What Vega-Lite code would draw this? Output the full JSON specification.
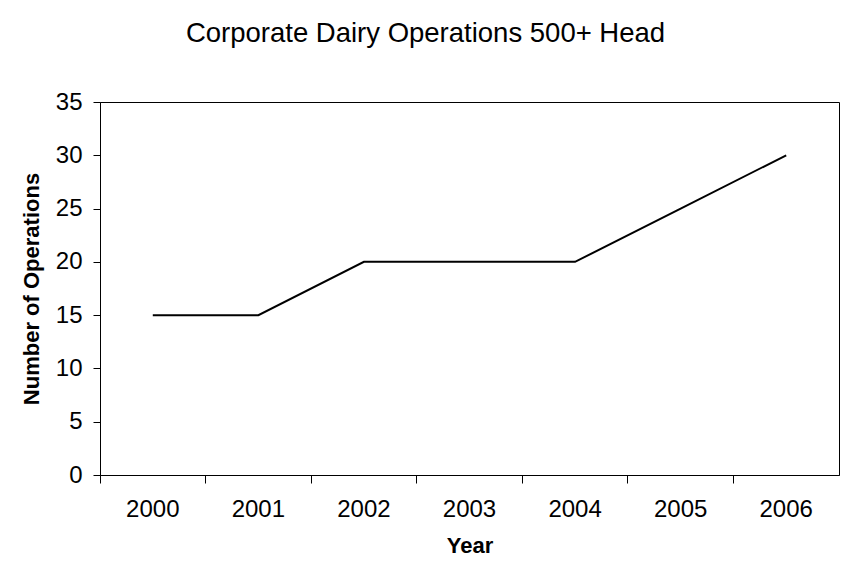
{
  "$schema": "https://vega.github.io/schema/vega-lite/v6.json",
  "autosize": {"type": "none"},
  "width": 739,
  "height": 373,
  "padding": {"left": 100, "top": 102, "right": 16, "bottom": 102},
  "background": "white",
  "config": {
    "view": {"stroke": "#000", "strokeWidth": 1},
    "font": "Liberation Sans"
  },
  "title": {
    "text": "Corporate Dairy Operations 500+ Head",
    "font": "Liberation Sans",
    "fontSize": 27.5,
    "fontWeight": "normal",
    "color": "#000",
    "anchor": "middle",
    "baseline": "alphabetic",
    "offset": 21,
    "dx": -44
  },
  "data": {
    "values": [
      {"Year": "2000", "Operations": 15},
      {"Year": "2001", "Operations": 15},
      {"Year": "2002", "Operations": 20},
      {"Year": "2003", "Operations": 20},
      {"Year": "2004", "Operations": 20},
      {"Year": "2005", "Operations": 25},
      {"Year": "2006", "Operations": 30}
    ]
  },
  "mark": {"type": "line", "color": "#000", "strokeWidth": 2},
  "encoding": {
    "x": {
      "field": "Year",
      "type": "ordinal",
      "bandPosition": 0.5,
      "scale": {"type": "band", "paddingInner": 0, "paddingOuter": 0},
      "axis": {
        "title": "Year",
        "titleFont": "Liberation Sans",
        "titleFontSize": 22,
        "titleFontWeight": "bold",
        "titleColor": "#000",
        "titlePadding": 14,
        "labelFont": "Liberation Sans",
        "labelFontSize": 24,
        "labelColor": "#000",
        "labelAngle": 0,
        "labelPadding": 14,
        "bandPosition": 0,
        "tickSize": 8,
        "tickColor": "#000",
        "domainColor": "#000",
        "grid": false
      }
    },
    "y": {
      "field": "Operations",
      "type": "quantitative",
      "scale": {"domain": [0, 35], "nice": false},
      "axis": {
        "title": "Number of Operations",
        "values": [0, 5, 10, 15, 20, 25, 30, 35],
        "titleFont": "Liberation Sans",
        "titleFontSize": 22,
        "titleFontWeight": "bold",
        "titleColor": "#000",
        "titlePadding": 12,
        "labelFont": "Liberation Sans",
        "labelFontSize": 24,
        "labelColor": "#000",
        "labelPadding": 11,
        "tickSize": 7,
        "tickColor": "#000",
        "domainColor": "#000",
        "grid": false
      }
    }
  }
}
